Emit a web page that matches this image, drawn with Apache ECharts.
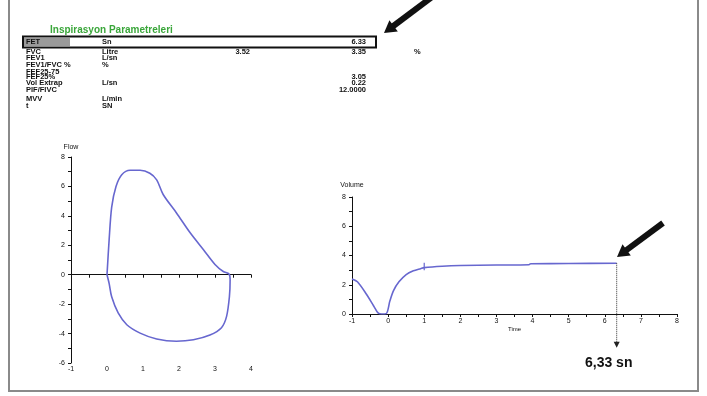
<!DOCTYPE html>
<html>
<head>
<meta charset="utf-8">
<script src="https://cdn.jsdelivr.net/npm/echarts@6/dist/echarts.min.js"></script>
<style>
  html, body { margin: 0; padding: 0; background: #fff; }
  #chart { width: 707px; height: 396px; }
</style>
</head>
<body>
<div id="chart"></div>
<script>
// flow-volume loop (volume L, flow L/s)
const loopPoints = [
  [0, 0], [0.06, 2.4], [0.13, 4.6], [0.25, 6.0], [0.41, 6.8], [0.64, 7.1],
  [0.92, 7.1], [1.19, 6.9], [1.38, 6.45], [1.56, 5.45], [1.93, 4.2],
  [2.31, 2.85], [2.68, 1.7], [3.0, 0.7], [3.23, 0.22], [3.39, 0.05],
  [3.42, -0.35], [3.4, -1.5], [3.32, -2.85], [3.18, -3.6], [2.86, -4.1],
  [2.4, -4.42], [1.93, -4.52], [1.38, -4.37], [0.92, -3.97], [0.55, -3.4],
  [0.31, -2.6], [0.13, -1.5], [0.06, -0.6], [0, 0]
]

// volume-time curve (s, L)
const volumeTime = [
  [-1, 2.4], [-0.85, 2.2], [-0.6, 1.35], [-0.4, 0.55], [-0.28, 0.08],
  [-0.18, 0], [-0.05, 0.03], [0.05, 0.9], [0.15, 1.6], [0.3, 2.2],
  [0.5, 2.7], [0.7, 2.95], [0.9, 3.1], [1.0, 3.17], [1.5, 3.27],
  [2, 3.32], [3, 3.35], [3.9, 3.37], [3.95, 3.44], [5, 3.45], [6.33, 3.47]
]
const fev1Marker = [[1, 3.0], [1, 3.5]]
const endTime = 6.33
const endVolume = 3.47
const arrowTipVolume = -2.1
const endLabel = '6,33 sn'

const flowTicks = [-6, -4, -2, 0, 2, 4, 6, 8]
const loopVolTicks = [-1, 0, 1, 2, 3, 4]
const volTicks = [0, 2, 4, 6, 8]
const timeTicks = [-1, 0, 1, 2, 3, 4, 5, 6, 7, 8]

// parameter table
const tableTitle = 'Inspirasyon Parametreleri'
const paramNames = ['FET', 'FVC', 'FEV1', 'FEV1/FVC %', 'FEF25-75', 'FEF25%', 'Vol Extrap', 'PIF/FIVC', 'MVV', 't']
const paramUnits = ['Sn', 'Litre', 'L/sn', '%', '', '', 'L/sn', '', 'L/min', 'SN']
const paramPred = ['', '3.52', '', '', '', '', '', '', '', '']
const paramMeas = ['6.33', '3.35', '', '', '', '3.05', '0.22', '12.0000', '', '']
const paramPct = ['', '%', '', '', '', '', '', '', '', '']

const rowY = [42, 52, 58, 65, 71.5, 77, 83, 89.5, 99, 106]
const curveColor = '#6767cf'
const txt = '#111'
const font = 'Liberation Sans, Arial, sans-serif'

const chart = echarts.init(document.getElementById('chart'))

function arrow(x1, y1, x2, y2) {
  const dx = x2 - x1, dy = y2 - y1
  const len = Math.sqrt(dx * dx + dy * dy)
  const ux = dx / len, uy = dy / len
  const hl = 12, hw = 7
  const bx = x2 - ux * hl, by = y2 - uy * hl
  return [
    { type: 'line', shape: { x1: x1, y1: y1, x2: bx + ux * 2, y2: by + uy * 2 },
      style: { stroke: '#111', lineWidth: 6 } },
    { type: 'polygon', shape: { points: [[x2, y2], [bx - uy * hw, by + ux * hw], [bx + uy * hw, by - ux * hw]] },
      style: { fill: '#111' } }
  ]
}

const graphic = [
  { type: 'rect', shape: { x: 9, y: -5, width: 689, height: 396 },
    style: { fill: 'none', stroke: '#8a8a8a', lineWidth: 2 } },
  { type: 'text', x: 50, y: 30, style: { text: tableTitle, fill: '#3aa63a',
    font: 'bold 10px ' + font, verticalAlign: 'middle' } },
  { type: 'rect', shape: { x: 23, y: 36.5, width: 353, height: 11 },
    style: { fill: 'none', stroke: '#111', lineWidth: 2 } },
  { type: 'rect', shape: { x: 24, y: 38, width: 46, height: 8 },
    style: { fill: '#9a9a9a' } }
]
paramNames.forEach((name, i) => {
  const st = (t, x, align) => ({ type: 'text', x: x, y: rowY[i],
    style: { text: t, fill: txt, font: 'bold 7.5px ' + font, align: align, verticalAlign: 'middle' } })
  graphic.push(st(name, 26, 'left'))
  if (paramUnits[i]) graphic.push(st(paramUnits[i], 102, 'left'))
  if (paramPred[i]) graphic.push(st(paramPred[i], 250, 'right'))
  if (paramMeas[i]) graphic.push(st(paramMeas[i], 366, 'right'))
  if (paramPct[i]) graphic.push(st(paramPct[i], 414, 'left'))
})
graphic.push(...arrow(432, -3, 384, 33))
graphic.push(...arrow(663, 223, 617, 257))

const axisLine = { lineStyle: { color: '#111', width: 1 } }
const labelStyle = { fontSize: 7, color: txt, fontFamily: font }

const option = {
  animation: false,
  backgroundColor: '#fff',
  graphic: graphic,
  grid: [
    { left: 71, top: 157, width: 180, height: 206 },
    { left: 352, top: 197, width: 325, height: 117 }
  ],
  xAxis: [
    { type: 'value', gridIndex: 0, min: loopVolTicks[0], max: loopVolTicks[loopVolTicks.length - 1], interval: 1,
      axisLine: Object.assign({ onZero: true }, axisLine),
      axisTick: { show: true, length: 3, lineStyle: { color: '#111' } },
      minorTick: { show: true, splitNumber: 2, length: 3, lineStyle: { color: '#111' } },
      axisLabel: { show: false }, splitLine: { show: false } },
    { type: 'value', gridIndex: 0, position: 'bottom', min: loopVolTicks[0], max: loopVolTicks[loopVolTicks.length - 1], interval: 1,
      axisLine: { show: false, onZero: false }, axisTick: { show: false },
      axisLabel: Object.assign({ margin: 3 }, labelStyle), splitLine: { show: false } },
    { type: 'value', gridIndex: 1, min: timeTicks[0], max: timeTicks[timeTicks.length - 1], interval: 1,
      name: 'Time', nameLocation: 'middle', nameGap: 12,
      nameTextStyle: { fontSize: 6, color: txt, fontFamily: font },
      axisLine: Object.assign({ onZero: false }, axisLine),
      axisTick: { show: true, length: 3, lineStyle: { color: '#111' } },
      minorTick: { show: true, splitNumber: 2, length: 3, lineStyle: { color: '#111' } },
      axisLabel: Object.assign({ margin: 4 }, labelStyle), splitLine: { show: false } }
  ],
  yAxis: [
    { type: 'value', gridIndex: 0, min: flowTicks[0], max: flowTicks[flowTicks.length - 1], interval: 2,
      name: 'Flow', nameLocation: 'end', nameGap: 6,
      nameTextStyle: { fontSize: 7, color: txt, fontFamily: font },
      axisLine: Object.assign({ show: true, onZero: false }, axisLine),
      axisTick: { show: true, length: 3, lineStyle: { color: '#111' } },
      minorTick: { show: true, splitNumber: 2, length: 3, lineStyle: { color: '#111' } },
      axisLabel: Object.assign({ margin: 6 }, labelStyle), splitLine: { show: false } },
    { type: 'value', gridIndex: 1, min: volTicks[0], max: volTicks[volTicks.length - 1], interval: 2,
      name: 'Volume', nameLocation: 'end', nameGap: 8,
      nameTextStyle: { fontSize: 7, color: txt, fontFamily: font },
      axisLine: Object.assign({ show: true, onZero: false }, axisLine),
      axisTick: { show: true, length: 3, lineStyle: { color: '#111' } },
      minorTick: { show: true, splitNumber: 2, length: 3, lineStyle: { color: '#111' } },
      axisLabel: Object.assign({ margin: 6 }, labelStyle), splitLine: { show: false } }
  ],
  series: [
    { type: 'line', xAxisIndex: 0, yAxisIndex: 0, data: loopPoints, smooth: 0.3,
      showSymbol: false, lineStyle: { color: curveColor, width: 1.6 } },
    { type: 'line', xAxisIndex: 2, yAxisIndex: 1, data: volumeTime, smooth: 0.3,
      showSymbol: false, lineStyle: { color: curveColor, width: 1.6 } },
    { type: 'line', xAxisIndex: 2, yAxisIndex: 1, data: fev1Marker,
      showSymbol: false, lineStyle: { color: curveColor, width: 1.2 } },
    { type: 'line', xAxisIndex: 2, yAxisIndex: 1, clip: false,
      symbol: 'triangle', symbolRotate: 180, symbolSize: 6,
      itemStyle: { color: '#222' },
      lineStyle: { color: '#333', width: 1, type: 'dotted' },
      data: [
        { value: [endTime, endVolume], symbol: 'none' },
        { value: [endTime, arrowTipVolume],
          label: { show: true, position: 'bottom', distance: 8, offset: [-8, 0], formatter: endLabel,
            fontSize: 14, fontWeight: 'bold', color: '#111', fontFamily: font } }
      ] }
  ]
}

chart.setOption(option)
</script>
</body>
</html>
